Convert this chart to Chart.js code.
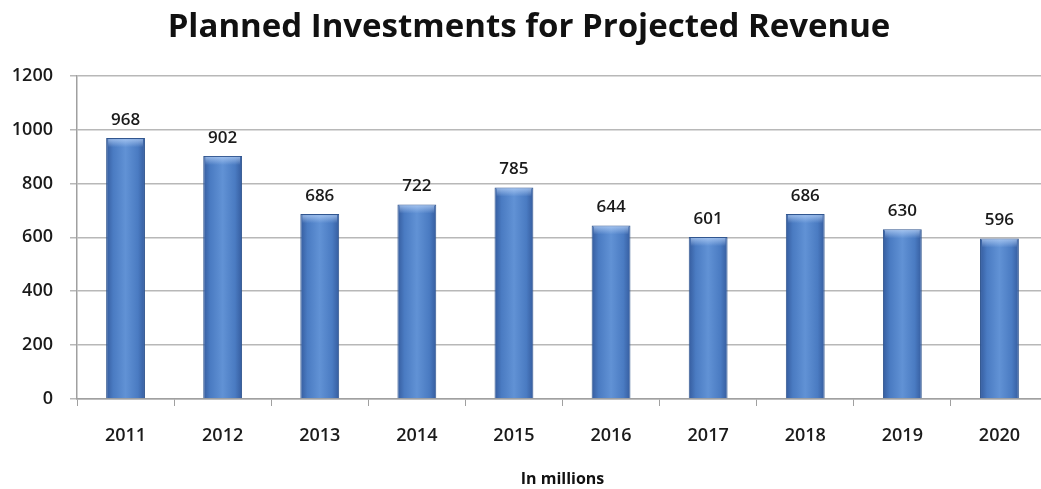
<!DOCTYPE html>
<html lang="en">
  <head>
    <meta charset="UTF-8" />
    <title>Planned Investments for Projected Revenue</title>
    <script src="https://cdn.jsdelivr.net/npm/chart.js@4.4.1/dist/chart.umd.min.js"></script>
    <style>
      body {
        margin: 0;
        background: #fff;
        overflow: hidden;
      }
      #wrap {
        width: 1048px;
        height: 489px;
      }
    </style>
  </head>
  <body>
    <div id="wrap"><canvas id="chart"></canvas></div>
    <script>
      const years = ["2011", "2012", "2013", "2014", "2015", "2016", "2017", "2018", "2019", "2020"];
      const investments = [968, 902, 686, 722, 785, 644, 601, 686, 630, 596];

      const font = "'Open Sans', 'Liberation Sans', sans-serif";
      const BAR_FRACTION = 0.4;

      // light bevel at the top of each bar, then the value above it
      const barLabels = {
        id: "barLabels",
        afterDatasetsDraw(chart) {
          const ctx = chart.ctx;
          const meta = chart.getDatasetMeta(0);
          ctx.save();
          meta.data.forEach(bar => {
            const half = bar.width / 2;
            const g = ctx.createLinearGradient(0, bar.y, 0, bar.y + 9);
            g.addColorStop(0, "rgba(190,215,250,0.75)");
            g.addColorStop(1, "rgba(190,215,250,0)");
            ctx.fillStyle = g;
            ctx.fillRect(bar.x - half + 2, bar.y + 1, bar.width - 4, 9);
          });
          ctx.font = "600 17px " + font;
          ctx.fillStyle = "#1a1a1a";
          ctx.textAlign = "center";
          ctx.textBaseline = "alphabetic";
          meta.data.forEach((bar, i) => {
            ctx.fillText(investments[i], bar.x, bar.y - 13);
          });
          ctx.restore();
        },
      };

      // horizontal shading across each bar, light in the middle
      const barFill = c => {
        const x = c.chart.scales.x;
        if (!x || x.width == null) return "#4f7fc4";
        const cx = x.getPixelForValue(c.dataIndex);
        const half = (x.width / years.length) * BAR_FRACTION / 2;
        const g = c.chart.ctx.createLinearGradient(cx - half, 0, cx + half, 0);
        g.addColorStop(0, "#355c9e");
        g.addColorStop(0.18, "#4a7bc2");
        g.addColorStop(0.5, "#6192d5");
        g.addColorStop(0.82, "#4a7bc2");
        g.addColorStop(1, "#355c9e");
        return g;
      };

      new Chart(document.getElementById("chart"), {
        type: "bar",
        data: {
          labels: years,
          datasets: [
            {
              data: investments,
              backgroundColor: barFill,
              borderColor: "#31568f",
              borderWidth: 1,
              barPercentage: BAR_FRACTION / 0.5,
              categoryPercentage: 0.5,
            },
          ],
        },
        options: {
          responsive: true,
          maintainAspectRatio: false,
          animation: false,
          layout: { padding: { top: 0, left: 10, right: 0, bottom: 0 } },
          plugins: {
            legend: { display: false },
            tooltip: { enabled: false },
            title: {
              display: true,
              text: "Planned Investments for Projected Revenue",
              color: "#111",
              font: { family: font, size: 33, weight: "bold" },
              padding: { top: 8, bottom: 28 },
            },
          },
          scales: {
            y: {
              min: 0,
              max: 1200,
              afterFit: s => { s.width = 67; },
              ticks: {
                stepSize: 200,
                color: "#1a1a1a",
                padding: 17,
                callback: v => String(v),
                font: { family: font, size: 18, weight: "600" },
              },
              grid: {
                color: "#b8b8b8",
                lineWidth: 1.5,
                tickLength: 7,
              },
              border: { color: "#a0a0a0", width: 1.5 },
            },
            x: {
              afterFit: s => { s.height = 90; },
              ticks: {
                color: "#1a1a1a",
                padding: 19,
                font: { family: font, size: 18, weight: "600" },
              },
              grid: {
                display: true,
                offset: true,
                drawOnChartArea: false,
                color: "#a0a0a0",
                tickLength: 7,
              },
              border: { color: "#a0a0a0", width: 1.5 },
              title: {
                display: true,
                text: "In millions",
                color: "#111",
                font: { family: font, size: 16, weight: "bold" },
                padding: { top: 0, bottom: 0 },
              },
            },
          },
        },
        plugins: [barLabels],
      });
    </script>
  </body>
</html>
